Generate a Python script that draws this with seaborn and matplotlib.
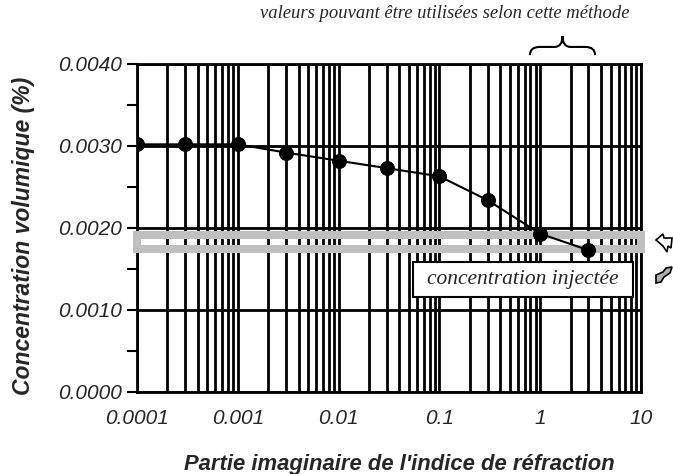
import matplotlib
matplotlib.use('Agg')
import matplotlib.pyplot as plt
import matplotlib.transforms as mtransforms
from matplotlib.patches import Rectangle, Polygon, PathPatch
from matplotlib.path import Path
from matplotlib.ticker import FixedLocator, LogLocator, MultipleLocator, NullFormatter
import seaborn as sns
import pandas as pd

# data
imag_index = [0.0001, 0.0003, 0.001, 0.003, 0.01, 0.03, 0.1, 0.3, 1, 3]
concentration = [0.00302, 0.00302, 0.00302, 0.00292, 0.00282, 0.00273,
                 0.00263, 0.00234, 0.00193, 0.00173]
x_ticks = [0.0001, 0.001, 0.01, 0.1, 1, 10]
x_tick_labels = ['0.0001', '0.001', '0.01', '0.1', '1', '10']
y_ticks = [0.0, 0.001, 0.002, 0.003, 0.004]
y_tick_labels = ['0.0000', '0.0010', '0.0020', '0.0030', '0.0040']
injected_band = (0.00174, 0.00192)
method_range = (0.79, 3.5)

SANS = 'Liberation Sans'
SERIF = 'Liberation Serif'

sns.set_style('white')
plt.rcParams['font.family'] = [SANS, 'DejaVu Sans']

df = pd.DataFrame({'k': imag_index, 'c': concentration})

fig = plt.figure(figsize=(6.73, 4.74), dpi=100)
ax = fig.add_axes([0.2036, 0.173, 0.7489, 0.692])

sns.lineplot(data=df, x='k', y='c', ax=ax, color='black', lw=1.5,
             marker='o', markersize=10, markeredgecolor='black', zorder=5)

ax.set_xscale('log')
ax.set_xlim(0.0001, 10)
ax.set_ylim(0, 0.004)

ax.xaxis.set_major_locator(FixedLocator(x_ticks))
ax.set_xticklabels(x_tick_labels)
ax.xaxis.set_minor_locator(LogLocator(base=10, subs=range(2, 10), numticks=20))
ax.xaxis.set_minor_formatter(NullFormatter())
ax.yaxis.set_major_locator(FixedLocator(y_ticks))
ax.set_yticklabels(y_tick_labels)
ax.yaxis.set_minor_locator(MultipleLocator(0.0005))

ax.tick_params(axis='x', which='both', length=0, pad=12, labelsize=15)
ax.tick_params(axis='y', which='major', direction='out', length=7, width=1.5,
               color='black', left=True, labelsize=15, pad=4)
ax.tick_params(axis='y', which='minor', direction='out', length=7, width=1.5,
               color='black', left=True)
for lab in ax.get_xticklabels() + ax.get_yticklabels():
    lab.set_fontstyle('italic')

ax.grid(True, which='both', axis='x', color='black', lw=2)
ax.grid(True, which='major', axis='y', color='black', lw=2)
ax.set_axisbelow(True)
for sp in ax.spines.values():
    sp.set_color('black')
    sp.set_linewidth(2)

ax.set_xlabel("Partie imaginaire de l'indice de réfraction", fontsize=15.8,
              fontweight='bold', fontstyle='italic')
ax.set_ylabel('Concentration volumique (%)', fontsize=16.5,
              fontweight='bold', fontstyle='italic')
ax.xaxis.set_label_coords(0.52, -0.19)
ax.yaxis.set_label_coords(-0.202, 0.475)

# injected concentration band (hollow grey rectangle)
trans_xa = mtransforms.blended_transform_factory(ax.transAxes, ax.transData)
ax.add_patch(Rectangle((0, injected_band[0]), 1.0, injected_band[1] - injected_band[0],
                       transform=trans_xa, fill=False, ec='#c0c0c0', lw=5.8,
                       zorder=3, clip_on=False, joinstyle='miter'))

# label box
ax.add_patch(Rectangle((0.548, 0.29), 0.436, 0.106, transform=ax.transAxes,
                       fc='white', ec='black', lw=1.5, zorder=3.5))
ax.text(0.766, 0.343, 'concentration injectée', transform=ax.transAxes,
        ha='center', va='center', fontsize=15.5, family=SERIF,
        fontstyle='italic', zorder=4)

# brace above the method range
trans_dx = mtransforms.blended_transform_factory(ax.transData, ax.transAxes)
x0, x1 = method_range
xm = (x0 * x1) ** 0.5
y_end, y_mid, y_tip = 1.027, 1.052, 1.085
verts = [(x0, y_end), (x0, y_mid), (x0 * 1.25, y_mid),
         (xm / 1.2, y_mid), (xm, y_mid), (xm, y_tip),
         (xm, y_mid), (xm * 1.2, y_mid),
         (x1 / 1.25, y_mid), (x1, y_mid), (x1, y_end)]
codes = [Path.MOVETO, Path.CURVE3, Path.CURVE3,
         Path.LINETO, Path.CURVE3, Path.CURVE3,
         Path.CURVE3, Path.CURVE3,
         Path.LINETO, Path.CURVE3, Path.CURVE3]
ax.add_patch(PathPatch(Path(verts, codes), transform=trans_dx, fill=False,
                       ec='black', lw=1.5, clip_on=False))

fig.text(0.661, 0.972, 'valeurs pouvant être utilisées selon cette méthode',
         ha='center', va='center', fontsize=13.4, family=SERIF, fontstyle='italic')

# broken arrow pictogram on the right
W, H = 673.0, 474.0
def px(points):
    return [(x / W, 1 - y / H) for x, y in points]

fig.patches.append(Polygon(px([(656, 240), (663, 234), (664, 238), (672, 238),
                               (671, 248), (668, 246), (667, 252), (663, 246)]),
                           closed=True, fc='white', ec='black', lw=1.2,
                           transform=fig.transFigure, figure=fig))
fig.patches.append(Polygon(px([(656, 275), (663, 272), (666, 268), (672, 267),
                               (670, 273), (664, 277), (661, 282), (656, 283)]),
                           closed=True, fc='#b0b0b0', ec='black', lw=1.2,
                           transform=fig.transFigure, figure=fig))

fig.savefig('out.png', dpi=100)
